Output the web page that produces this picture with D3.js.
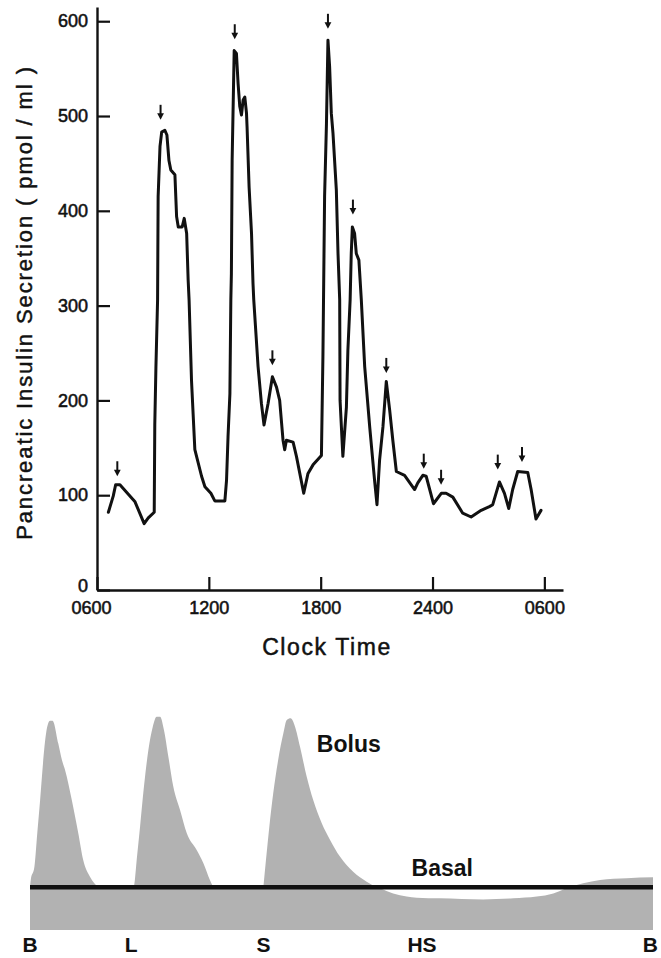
<!DOCTYPE html>
<html>
<head>
<meta charset="utf-8">
<script src="https://cdn.jsdelivr.net/npm/d3@7"></script>
<style>
  body { margin: 0; background: #fff; }
  svg { display: block; font-family: "Liberation Sans", Arial, Helvetica, sans-serif; }
</style>
</head>
<body>
<svg id="chart" width="661" height="958"></svg>
<script>
// ---- 24-h insulin secretion profile (clock hours, 6 = 06:00, 30 = 06:00 next day) ----
const clockHours = [6.61,6.87,7.0,7.23,7.86,8.04,8.53,8.75,9.07,9.10,
  9.16,9.25,9.28,9.38,9.47,9.64,9.75,9.86,9.96,10.18,
  10.27,10.36,10.57,10.68,10.81,10.89,10.94,11.07,11.25,11.61,
  11.79,12.11,12.32,12.86,12.95,13.03,13.13,13.18,13.21,13.25,
  13.36,13.48,13.57,13.66,13.75,13.84,13.93,14.02,14.05,14.16,
  14.29,14.37,14.41,14.64,14.82,14.96,15.18,15.41,15.63,15.80,
  15.98,16.07,16.16,16.52,16.70,17.09,17.32,17.59,18.04,18.12,
  18.21,18.31,18.39,18.48,18.57,18.66,18.84,18.93,19.02,19.04,
  19.19,19.38,19.46,19.58,19.64,19.70,19.82,19.91,20.05,20.18,
  20.36,20.63,20.89,21.02,21.16,21.34,21.52,21.70,21.87,22.06,
  22.50,23.04,23.21,23.48,23.66,24.05,24.47,24.73,25.09,25.62,
  26.07,26.61,27.05,27.23,27.59,27.86,28.09,28.30,28.57,29.11,
  29.29,29.55,29.82];
const secretion = [82,99,111,111,97,93,70,76,82,174,
  234,306,415,468,483,485,480,453,443,438,
  394,383,383,392,376,327,306,221,148,120,
  109,102,94,94,116,162,207,306,334,453,
  569,566,534,510,501,517,520,503,489,425,
  376,323,306,236,197,174,197,225,214,200,
  158,148,158,156,141,102,123,132,142,246,
  415,492,580,552,503,482,422,355,306,200,
  141,193,253,306,355,383,376,355,348,306,
  236,172,116,90,137,172,220,190,158,125,
  121,106,113,121,120,91,102,102,98,81,
  77,84,88,90,114,102,86,106,125,124,
  106,75,84];

// meal / snack markers: time and the level the arrow tip points to
const mealArrowHours  = [7.09, 9.41, 13.39, 15.41, 18.39, 19.73, 21.52, 23.53, 24.46, 27.5, 28.8];
const mealArrowValues = [120, 496, 581, 237, 592, 396, 229, 128, 111, 127, 135];

const xTickValues = [6, 12, 18, 24, 30];
const xTickLabels = ["0600", "1200", "1800", "2400", "0600"];
const yTickValues = [0, 100, 200, 300, 400, 500, 600];

// ---- schematic of basal / bolus insulin (hours after breakfast, relative level) ----
const basalHours  = [0, 13.36, 13.48, 13.99, 14.51, 14.90, 15.79, 17.46, 18.62, 19.52, 20.16, 20.67, 21.31, 21.96, 22.99, 24];
const basalLevels = [2, 2, 1.95, 1.71, 1.56, 1.51, 1.48, 1.43, 1.48, 1.56, 1.71, 1.95, 2.18, 2.34, 2.42, 2.46];
const basalLineLevel = 2;

const bolusBreakfastHours  = [0,0.03,0.17,0.28,0.39,0.49,0.62,0.77,0.87,1.09,1.23,1.35,1.61,1.86,2.05,2.31,2.63];
const bolusBreakfastLevels = [2,2.34,2.96,4.52,6.07,7.63,9.19,9.78,9.78,8.72,7.94,7.48,6.07,4.52,3.27,2.49,2.0];
const bolusLunchHours  = [4.0,4.04,4.11,4.24,4.39,4.56,4.73,4.88,5.01,5.16,5.33,5.52,5.78,6.04,6.42,6.68,6.93,7.06];
const bolusLunchLevels = [2,2.34,3.27,4.83,6.70,8.41,9.50,9.97,9.97,9.35,8.10,6.70,5.61,4.52,3.74,3.12,2.34,2.0];
const bolusSupperHours  = [8.99,9.09,9.22,9.37,9.56,9.76,9.89,10.04,10.21,10.40,10.66,10.91,11.24,11.56,11.94,12.45,12.97,13.36];
const bolusSupperLevels = [2.0,3.27,4.83,6.39,7.94,9.19,9.81,9.89,9.50,8.57,7.16,6.07,4.99,4.21,3.43,2.72,2.26,2.0];

const mealLabelHours = [0, 3.9, 9, 15.1, 23.9];
const mealLabels = ["B", "L", "S", "HS", "B"];

const svg = d3.select("#chart");
const ink = "#111";

// ================= upper panel =================
const x = d3.scaleLinear().domain([6, 31]).range([97, 563]);
const y = d3.scaleLinear().domain([0, 615]).range([590, 7]);

const yAxis = d3.axisLeft(y)
  .tickValues(yTickValues)
  .tickSizeInner(-13).tickSizeOuter(0).tickPadding(9);
const gy = svg.append("g").attr("transform", `translate(${x(6)},0)`).call(yAxis);

const xAxis = d3.axisBottom(x)
  .tickValues(xTickValues)
  .tickFormat((d, i) => xTickLabels[i])
  .tickSizeInner(-13).tickSizeOuter(0).tickPadding(11);
const gx = svg.append("g").attr("transform", `translate(0,${y(0)})`).call(xAxis);

[gx, gy].forEach(g => {
  g.select(".domain").attr("stroke", ink).attr("stroke-width", 2.4);
  g.selectAll(".tick line").attr("stroke", ink).attr("stroke-width", 2.2);
  g.selectAll(".tick text").attr("fill", ink).attr("font-size", 18)
    .attr("stroke", ink).attr("stroke-width", 0.55)
    .attr("font-family", "\"Liberation Sans\", Arial, sans-serif");
});
gx.selectAll(".tick text").filter((d, i) => i === 0).attr("dx", -6);
gy.selectAll(".tick text").filter(d => d === 0).attr("dy", "0.1em");

const series = clockHours.map((h, i) => [h, secretion[i]]);
svg.append("path")
  .datum(series)
  .attr("fill", "none")
  .attr("stroke", ink)
  .attr("stroke-width", 3)
  .attr("stroke-linejoin", "round")
  .attr("stroke-linecap", "round")
  .attr("d", d3.line().x(d => x(d[0])).y(d => y(d[1])));

// meal arrows
const arrows = svg.append("g").attr("fill", ink).attr("stroke", ink);
mealArrowHours.forEach((h, i) => {
  const ax = x(h), tip = y(mealArrowValues[i]);
  arrows.append("line").attr("x1", ax).attr("x2", ax)
    .attr("y1", tip - 15).attr("y2", tip - 4).attr("stroke-width", 2);
  arrows.append("path").attr("stroke", "none")
    .attr("d", `M${ax - 3.4},${tip - 6.5}L${ax + 3.4},${tip - 6.5}L${ax},${tip}Z`);
});

svg.append("text")
  .attr("transform", `translate(32,${(y(0) + y(615)) / 2 + 4}) rotate(-90)`)
  .attr("text-anchor", "middle")
  .attr("font-size", 22)
  .attr("letter-spacing", 1.9)
  .attr("fill", ink)
  .attr("stroke", ink).attr("stroke-width", 0.45)
  .text("Pancreatic Insulin Secretion  ( pmol / ml )");

svg.append("text")
  .attr("x", 327).attr("y", 655)
  .attr("text-anchor", "middle")
  .attr("font-size", 23)
  .attr("letter-spacing", 1.6)
  .attr("fill", ink)
  .attr("stroke", ink).attr("stroke-width", 0.5)
  .text("Clock Time");

// ================= lower panel (schematic) =================
const xs = d3.scaleLinear().domain([0, 24]).range([30, 653]);
const ys = d3.scaleLinear().domain([0, 10]).range([930, 716]);
const gray = "#b2b2b2";

const basal = basalHours.map((h, i) => [h, basalLevels[i]]);
svg.append("path")
  .datum(basal)
  .attr("fill", gray)
  .attr("d", d3.area().curve(d3.curveMonotoneX)
    .x(d => xs(d[0])).y0(ys(0)).y1(d => ys(d[1])));

const boluses = [
  [bolusBreakfastHours, bolusBreakfastLevels],
  [bolusLunchHours, bolusLunchLevels],
  [bolusSupperHours, bolusSupperLevels]
];
const bolusArea = d3.area().curve(d3.curveMonotoneX)
  .x(d => xs(d[0])).y0(ys(basalLineLevel)).y1(d => ys(d[1]));
boluses.forEach(([hs, ls]) => {
  svg.append("path")
    .datum(hs.map((h, i) => [h, ls[i]]))
    .attr("fill", gray)
    .attr("d", bolusArea);
});

svg.append("line")
  .attr("x1", xs(0)).attr("x2", xs(24))
  .attr("y1", ys(basalLineLevel)).attr("y2", ys(basalLineLevel))
  .attr("stroke", ink).attr("stroke-width", 4.5);

svg.append("text")
  .attr("x", xs(11.05)).attr("y", ys(8.32))
  .attr("font-size", 23).attr("font-weight", "bold").attr("fill", ink)
  .text("Bolus");
svg.append("text")
  .attr("x", xs(14.7)).attr("y", ys(2.52))
  .attr("font-size", 23).attr("font-weight", "bold").attr("fill", ink)
  .text("Basal");

svg.append("g").selectAll("text")
  .data(mealLabelHours)
  .join("text")
  .attr("x", d => xs(d)).attr("y", 952)
  .attr("text-anchor", "middle")
  .attr("font-size", 21).attr("font-weight", "bold").attr("fill", ink)
  .text((d, i) => mealLabels[i]);
</script>
</body>
</html>
